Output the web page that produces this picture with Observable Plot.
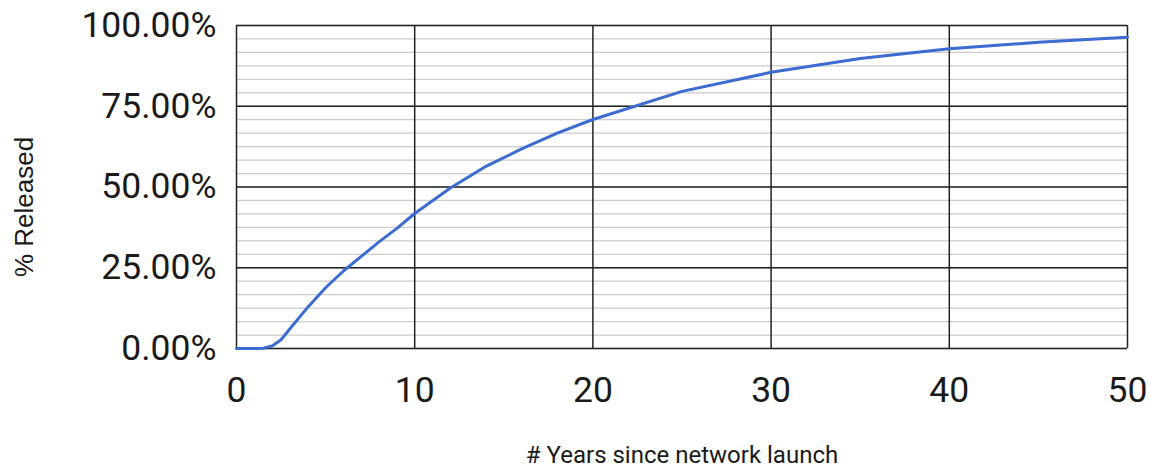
<!DOCTYPE html>
<html>
<head>
<meta charset="utf-8">
<script src="https://cdn.jsdelivr.net/npm/d3@7"></script>
<script src="https://cdn.jsdelivr.net/npm/@observablehq/plot@0.6"></script>
<style>
  html, body { margin: 0; padding: 0; background: #fff; }
  #chart svg { display: block; font-family: Roboto, "Noto Sans", sans-serif; }
</style>
</head>
<body>
<div id="chart"></div>
<script>
// Years since network launch
const years = [0, 1, 1.5, 2, 2.5, 3, 4, 5, 6, 7, 8, 9, 10, 12, 14, 16, 18, 20, 25, 30, 35, 40, 45, 50];
// Share released (fraction)
const released = [0, 0, 0.001, 0.008, 0.027, 0.061, 0.128, 0.188, 0.240, 0.285, 0.330, 0.372, 0.418, 0.497, 0.564, 0.618, 0.667, 0.709, 0.796, 0.855, 0.898, 0.928, 0.948, 0.964];
// Tick values
const xTicks = [0, 10, 20, 30, 40, 50];
const yTicks = [0, 0.25, 0.5, 0.75, 1];
const yMinorTicks = d3.range(0, 25).map(i => i / 24);

const data = years.map((x, i) => ({x, y: released[i]}));

const chart = Plot.plot({
  width: 1155,
  height: 471,
  marginLeft: 236,
  marginRight: 28,
  marginTop: 25,
  marginBottom: 123,
  style: {fontFamily: "Roboto, 'Noto Sans', sans-serif", color: "#1a1a1a", background: "#fff"},
  x: {domain: [0, 50], ticks: xTicks, label: null},
  y: {domain: [0, 1], ticks: yTicks, label: null},
  marks: [
    Plot.ruleY(yMinorTicks, {stroke: "#cccccc", strokeWidth: 1.3}),
    Plot.ruleY(yTicks, {stroke: "#222", strokeWidth: 1.5}),
    Plot.ruleX(xTicks, {stroke: "#222", strokeWidth: 1.5}),
    Plot.axisX({ticks: xTicks, tickSize: 0, tickPadding: 28, fontSize: 35.5, label: null, tickFormat: d => String(d)}),
    Plot.axisY({ticks: yTicks, tickSize: 0, tickPadding: 20, fontSize: 35.5, label: null, tickFormat: d3.format(".2%")}),
    Plot.line(data, {x: "x", y: "y", stroke: "#3c6bd1", strokeWidth: 3}),
    Plot.text(["% Released"], {frameAnchor: "left", textAnchor: "middle", lineAnchor: "middle", dx: -212, dy: 20, rotate: -90, fontSize: 26, fontFamily: "'Liberation Sans', Arial, sans-serif", fill: "#1a1a1a"}),
    Plot.text(["# Years since network launch"], {frameAnchor: "bottom", textAnchor: "middle", lineAnchor: "middle", dy: 107, fontSize: 24, fill: "#1a1a1a"})
  ]
});
document.getElementById("chart").append(chart);
</script>
</body>
</html>
